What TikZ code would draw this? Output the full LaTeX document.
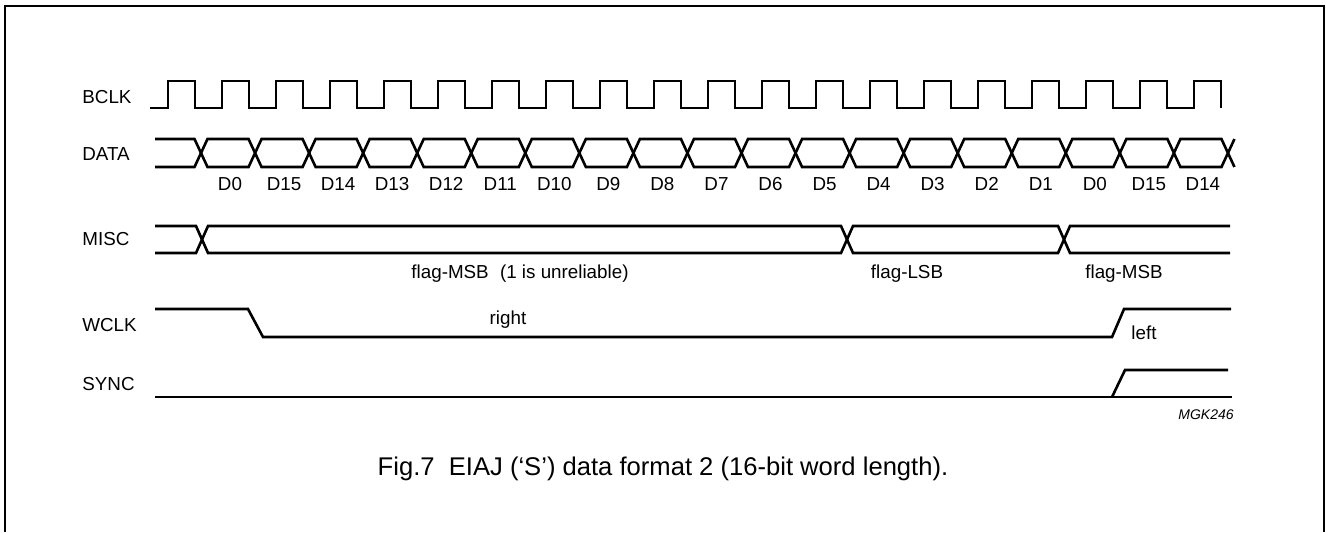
\documentclass[tikz,border=0pt]{standalone}
\usepackage{fontspec}
\setmainfont{Liberation Sans}
\begin{document}
\begin{tikzpicture}[x=0.5pt,y=-0.5pt,
    sig/.style={line width=1.3pt},
    lbl/.style={anchor=base,inner sep=0pt},
    signame/.style={anchor=base west,inner sep=0pt},
    font=\fontsize{9.4}{11}\selectfont]
  \useasboundingbox (0,0) rectangle (1326,532);

  % Рамка
  \draw[line width=0.9pt] (5,532) -- (5,6) -- (1324,6) -- (1324,532);

  % Названия сигналов
  \node[signame] (bclk) at (82,103) {BCLK};
  \node[signame] (data) at (82,160) {DATA};
  \node[signame] (misc) at (82,245) {MISC};
  \node[signame] (wclk) at (82,331) {WCLK};
  \node[signame] (sync) at (82,390) {SYNC};

  % BCLK
  \draw[sig] (150,108) foreach \k in {0,...,19} {
      -- ({168+54*\k},108) -- ({168+54*\k},81) -- ({195+54*\k},81) -- ({195+54*\k},108)};

  % DATA
  \foreach \s in {1,-1}
    \draw[sig] (155,{153-14*\s}) foreach \k in {0,...,19} {
        -- ({194.5+54.05*\k},{153-14*\s*(1-2*mod(\k,2))})
        -- ({207.5+54.05*\k},{153+14*\s*(1-2*mod(\k,2))})};
  \foreach \t [count=\i from 0] in {D0,D15,D14,D13,D12,D11,D10,D9,D8,D7,D6,D5,D4,D3,D2,D1,D0,D15,D14}
    \node[lbl] (d\i) at ({230+54.05*\i},190) {\t};

  % MISC
  \draw[sig] (155,226) -- (196,226) -- (208,253) -- (841,253) -- (853,226)
    -- (1058,226) -- (1070,253) -- (1230,253);
  \draw[sig] (155,253) -- (196,253) -- (208,226) -- (841,226) -- (853,253)
    -- (1058,253) -- (1070,226) -- (1230,226);
  \node[lbl] (msb1) at (520,278) {flag-MSB\hspace{0.6em}(1 is unreliable)};
  \node[lbl] (lsb) at (907,278) {flag-LSB};
  \node[lbl] (msb2) at (1124,278) {flag-MSB};

  % WCLK
  \draw[sig] (155,309) -- (248,309) -- (263,337) -- (1112,337) -- (1124,309) -- (1231,309);
  \node[lbl] (right) at (508,324) {right};
  \node[lbl] (left) at (1144,339) {left};

  % SYNC
  \draw[sig] (155,397) -- (1232,397);
  \draw[sig] (1112,397) -- (1125,370) -- (1228,370);

  % Подписи
  \node[anchor=base east,inner sep=0pt,font=\fontsize{7}{8}\selectfont\itshape] (code) at (1234,419) {MGK246};
  \node[lbl,font=\fontsize{12.8}{15}\selectfont] (caption) at (663,475) {Fig.7\ \ EIAJ (‘S’) data format 2 (16-bit word length).};
\end{tikzpicture}
\end{document}
